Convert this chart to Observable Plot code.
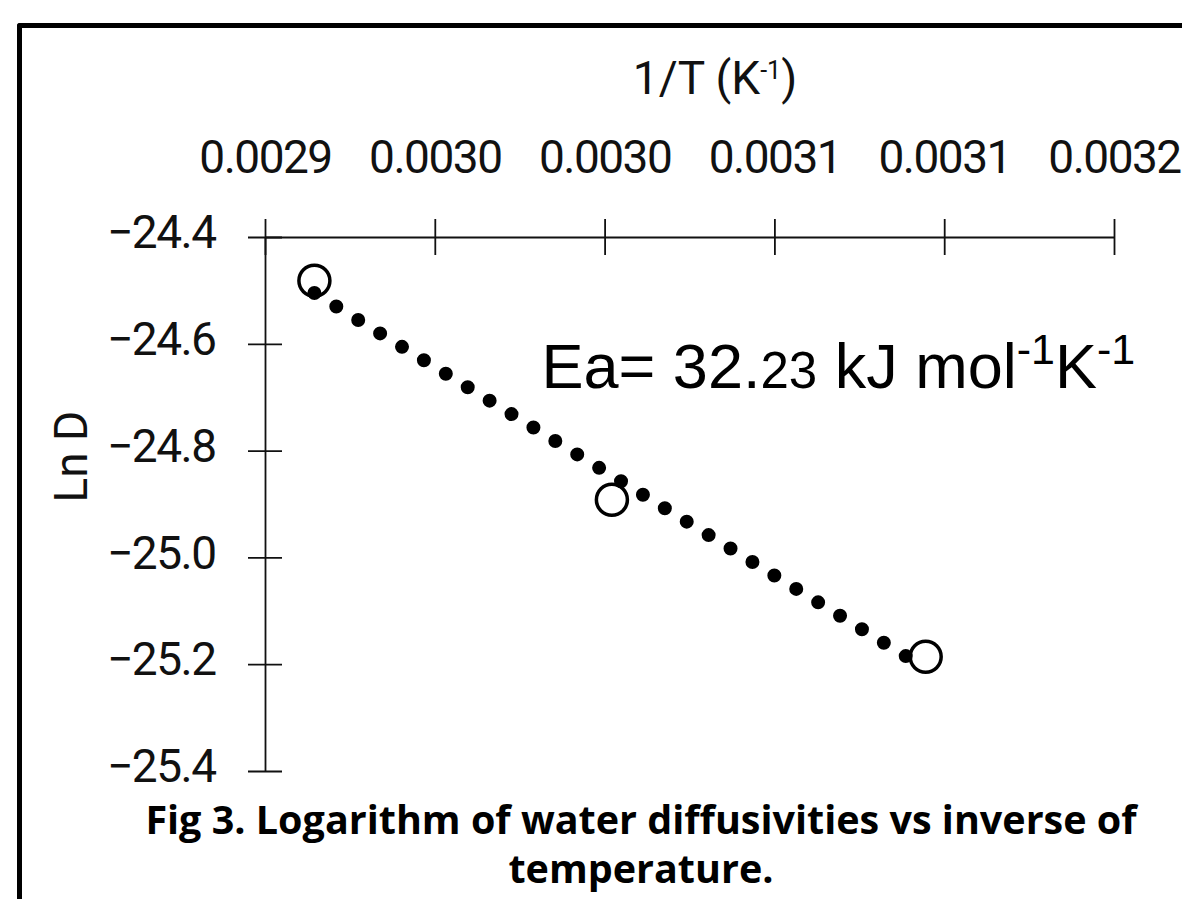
<!DOCTYPE html>
<html>
<head>
<meta charset="utf-8">
<script src="https://cdn.jsdelivr.net/npm/d3@7"></script>
<script src="https://cdn.jsdelivr.net/npm/@observablehq/plot@0.6"></script>
<style>
  html, body { margin: 0; padding: 0; background: #fff; }
  #wrap { position: relative; width: 1182px; height: 899px; overflow: hidden; background: #fff; }
  #chart { position: absolute; left: 0; top: 0; }
  #frame { position: absolute; left: 17px; top: 23px; width: 2000px; height: 2000px;
           border-top: 5px solid #000; border-left: 5px solid #000; border-radius: 3px 0 0 0; pointer-events: none; }
  #caption { position: absolute; left: 141px; width: 1000px; top: 795px; text-align: center;
             font-family: "Open Sans", Lato, sans-serif; font-weight: 700; font-size: 39.5px;
             line-height: 49px; white-space: nowrap; color: #000; }
</style>
</head>
<body>
<div id="wrap">
  <div id="chart"></div>
  <div id="frame"></div>
  <div id="caption">Fig 3. Logarithm of water diffusivities vs inverse of<br>temperature.</div>
</div>
<script>
// ---- data ----
const inverseTemperature = [0.0029144, 0.0030020, 0.0030944];   // 1/T (K^-1)
const lnDiffusivity = [-24.481, -24.891, -25.185];               // Ln D
const xTicks = [0.0029, 0.00295, 0.0030, 0.00305, 0.0031, 0.00315];
const xTickLabels = ["0.0029", "0.0030", "0.0030", "0.0031", "0.0031", "0.0032"];
const yTicks = [-24.4, -24.6, -24.8, -25.0, -25.2, -25.4];
const xLabel = "1/T (K-1)";
const yLabel = "Ln D";
const annotationText = "Ea= 32.23 kJ mol-1K-1";

const points = inverseTemperature.map((x, i) => ({x, y: lnDiffusivity[i]}));

const W = 1182, H = 790;
const mTop = 237, mLeft = 265, mRight = 68, mBottom = 19;
const frameW = W - mLeft - mRight, frameH = H - mTop - mBottom;

const chart = Plot.plot({
  width: W,
  height: H,
  marginTop: mTop,
  marginLeft: mLeft,
  marginRight: mRight,
  marginBottom: mBottom,
  style: {fontFamily: "Roboto, sans-serif", fontSize: "46px", color: "#111", background: "transparent", overflow: "visible"},
  x: {domain: [0.0029, 0.00315]},
  y: {domain: [-25.4, -24.4]},
  marks: [
    Plot.ruleY([-24.4], {stroke: "#111", strokeWidth: 1.8}),
    Plot.ruleX([0.0029], {stroke: "#111", strokeWidth: 1.8}),
    Plot.tickX(xTicks, {x: d => d, stroke: "#111", strokeWidth: 1.8, dy: -18, insetBottom: frameH - 36}),
    Plot.tickY(yTicks, {y: d => d, stroke: "#111", strokeWidth: 1.8, dx: -17, insetRight: frameW - 34}),
    Plot.axisX({anchor: "top", ticks: xTicks, tickSize: 0, tickPadding: 65, fontSize: 46,
                tickFormat: d => xTickLabels[xTicks.indexOf(d)], label: null}),
    Plot.axisY({anchor: "left", ticks: yTicks, tickSize: 0, tickPadding: 50, fontSize: 46,
                tickFormat: d3.format(".1f"), label: null, dy: -4}),
    Plot.text([xLabel], {text: d => d, frameAnchor: "top", lineAnchor: "bottom", dx: 25, dy: -144, fontSize: 46, fill: "#111"}),
    Plot.text([yLabel], {text: d => d, frameAnchor: "left", lineAnchor: "bottom", rotate: -90, dx: -179, dy: -2, fontSize: 46, fill: "#111"}),
    Plot.dot(points, {x: "x", y: "y", r: 15.5, stroke: "#000", strokeWidth: 3.5, fill: "#fff"}),
    Plot.linearRegressionY(points, {x: "x", y: "y", ci: 0, stroke: "#000", strokeWidth: 14,
                                    strokeDasharray: "0,25.7", strokeLinecap: "round"}),
    Plot.text([annotationText], {text: d => d, frameAnchor: "top-left", textAnchor: "start", lineAnchor: "bottom",
                                 dx: 276, dy: 150, fontSize: 63, fill: "#000",
                                 fontFamily: "'Liberation Sans', Arial, sans-serif"})
  ]
});

// rich text (superscripts) for the axis title and the annotation
function rich(svg, content, parts) {
  for (const t of svg.querySelectorAll("text")) {
    if (t.textContent === content) {
      t.textContent = "";
      for (const p of parts) {
        const s = document.createElementNS("http://www.w3.org/2000/svg", "tspan");
        s.textContent = p.t;
        if (p.size) s.setAttribute("font-size", p.size);
        if (p.dy) s.setAttribute("dy", p.dy);
        t.appendChild(s);
      }
    }
  }
}
rich(chart, xLabel, [
  {t: "1/T (K"},
  {t: "-1", size: 25, dy: -15},
  {t: ")", dy: 15}
]);
rich(chart, annotationText, [
  {t: "Ea= 32."},
  {t: "23", size: 51},
  {t: " kJ mol"},
  {t: "-1", size: 43, dy: -24},
  {t: "K", dy: 24},
  {t: "-1", size: 43, dy: -24}
]);
// tighter tick labels, as in the reference
for (const g of chart.querySelectorAll('g[aria-label="x-axis tick label"], g[aria-label="y-axis tick label"]')) {
  g.style.letterSpacing = "-1.5px";
}

document.getElementById("chart").appendChild(chart);
</script>
</body>
</html>
